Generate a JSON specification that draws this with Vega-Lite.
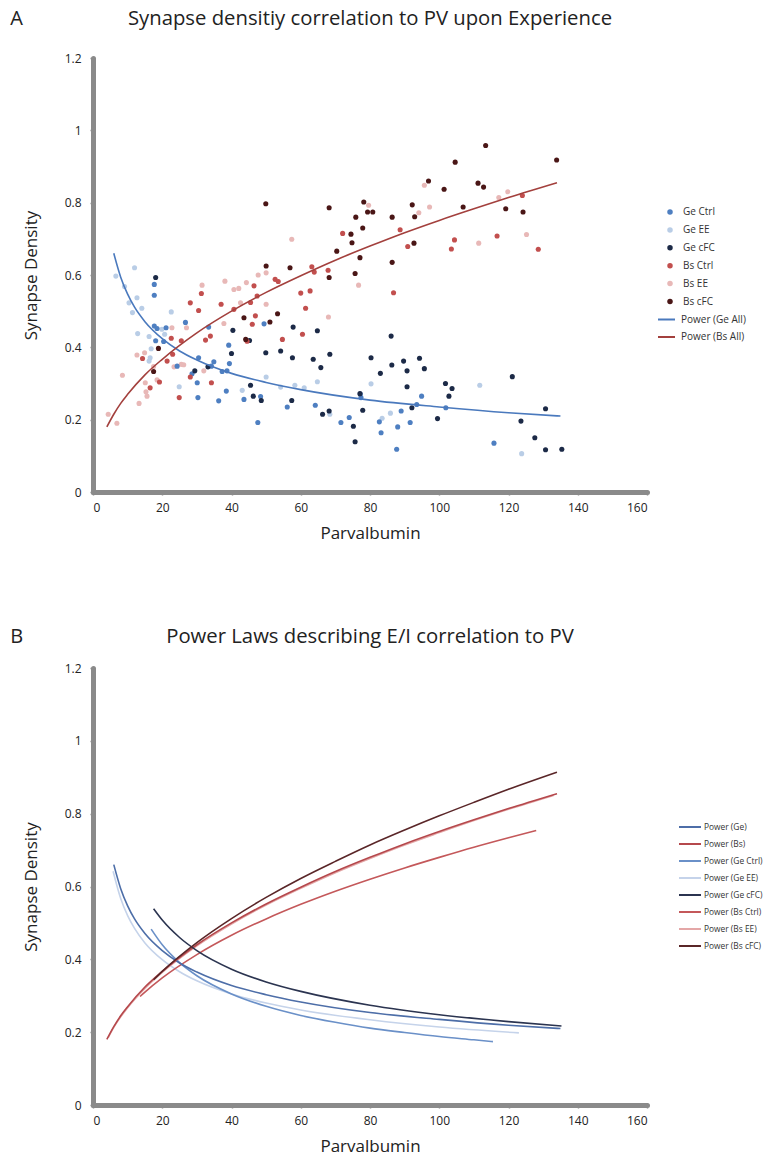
{
  "$schema": "https://vega.github.io/schema/vega-lite/v6.json",
  "background": "white",
  "padding": {"left": 10, "top": 8, "right": 5, "bottom": 2},
  "resolve": {"scale": {"fill": "independent", "stroke": "independent"}, "legend": {"fill": "independent", "stroke": "independent"}},
  "config": {
    "font": "Open Sans",
    "view": {"stroke": null},
    "axis": {"domainColor": "#8a8a8a", "domainWidth": 5, "domainCap": "round", "tickColor": "#8a8a8a", "tickSize": 3, "tickWidth": 1.5, "labelFontSize": 12, "labelColor": "#222", "titleFontSize": 17, "titleFontWeight": "normal", "titleColor": "#222", "grid": false},
    "title": {"fontWeight": "normal", "color": "#222"},
    "legend": {"title": null, "labelFontSize": 10, "labelColor": "#333", "orient": "none"},
    "concat": {"spacing": 85}
  },
  "datasets": {
    "pointsA": [
      {"series": "Bs EE", "pv": 4.4, "density": 0.215}, {"series": "Bs EE", "pv": 6.9, "density": 0.19}, {"series": "Bs EE", "pv": 8.5, "density": 0.323}, {"series": "Bs EE", "pv": 12.7, "density": 0.379}, {"series": "Bs EE", "pv": 14.9, "density": 0.385}, {"series": "Bs EE", "pv": 13.3, "density": 0.245}, {"series": "Bs EE", "pv": 15.1, "density": 0.302}, {"series": "Bs EE", "pv": 15.3, "density": 0.277}, {"series": "Bs EE", "pv": 15.6, "density": 0.265}, {"series": "Bs EE", "pv": 17.5, "density": 0.347}, {"series": "Bs EE", "pv": 18.5, "density": 0.31}, {"series": "Bs EE", "pv": 22.8, "density": 0.454}, {"series": "Bs EE", "pv": 23.4, "density": 0.346}, {"series": "Bs EE", "pv": 25.5, "density": 0.353}, {"series": "Bs EE", "pv": 26.2, "density": 0.352}, {"series": "Bs EE", "pv": 27, "density": 0.454}, {"series": "Bs EE", "pv": 31.5, "density": 0.572}, {"series": "Bs EE", "pv": 32, "density": 0.335}, {"series": "Bs EE", "pv": 37.8, "density": 0.466}, {"series": "Bs EE", "pv": 38.1, "density": 0.583}, {"series": "Bs EE", "pv": 40.7, "density": 0.56}, {"series": "Bs EE", "pv": 42.1, "density": 0.563}, {"series": "Bs EE", "pv": 42.6, "density": 0.523}, {"series": "Bs EE", "pv": 44.3, "density": 0.579}, {"series": "Bs EE", "pv": 47.7, "density": 0.6}, {"series": "Bs EE", "pv": 50, "density": 0.519}, {"series": "Bs EE", "pv": 50, "density": 0.606}, {"series": "Bs EE", "pv": 57.4, "density": 0.699}, {"series": "Bs EE", "pv": 68, "density": 0.484}, {"series": "Bs EE", "pv": 76.7, "density": 0.572}, {"series": "Bs EE", "pv": 79.6, "density": 0.793}, {"series": "Bs EE", "pv": 94.1, "density": 0.772}, {"series": "Bs EE", "pv": 95.7, "density": 0.848}, {"series": "Bs EE", "pv": 97.2, "density": 0.788}, {"series": "Bs EE", "pv": 111.4, "density": 0.688}, {"series": "Bs EE", "pv": 117.2, "density": 0.814}, {"series": "Bs EE", "pv": 119.8, "density": 0.83}, {"series": "Bs EE", "pv": 125.2, "density": 0.712},
      {"series": "Ge EE", "pv": 6.6, "density": 0.597}, {"series": "Ge EE", "pv": 9.1, "density": 0.568}, {"series": "Ge EE", "pv": 10.4, "density": 0.523}, {"series": "Ge EE", "pv": 12, "density": 0.62}, {"series": "Ge EE", "pv": 11.4, "density": 0.496}, {"series": "Ge EE", "pv": 12.7, "density": 0.537}, {"series": "Ge EE", "pv": 14.1, "density": 0.508}, {"series": "Ge EE", "pv": 12.9, "density": 0.438}, {"series": "Ge EE", "pv": 16.2, "density": 0.43}, {"series": "Ge EE", "pv": 16.8, "density": 0.396}, {"series": "Ge EE", "pv": 16.5, "density": 0.371}, {"series": "Ge EE", "pv": 16.2, "density": 0.362}, {"series": "Ge EE", "pv": 19.9, "density": 0.45}, {"series": "Ge EE", "pv": 20.7, "density": 0.436}, {"series": "Ge EE", "pv": 22.6, "density": 0.498}, {"series": "Ge EE", "pv": 24.9, "density": 0.291}, {"series": "Ge EE", "pv": 43.1, "density": 0.281}, {"series": "Ge EE", "pv": 50, "density": 0.318}, {"series": "Ge EE", "pv": 54.2, "density": 0.29}, {"series": "Ge EE", "pv": 58.3, "density": 0.295}, {"series": "Ge EE", "pv": 61, "density": 0.288}, {"series": "Ge EE", "pv": 64.8, "density": 0.305}, {"series": "Ge EE", "pv": 68.4, "density": 0.215}, {"series": "Ge EE", "pv": 80.3, "density": 0.299}, {"series": "Ge EE", "pv": 85.9, "density": 0.218}, {"series": "Ge EE", "pv": 83.5, "density": 0.204}, {"series": "Ge EE", "pv": 111.7, "density": 0.295}, {"series": "Ge EE", "pv": 123.8, "density": 0.106},
      {"series": "Ge Ctrl", "pv": 17.7, "density": 0.544}, {"series": "Ge Ctrl", "pv": 17.7, "density": 0.574}, {"series": "Ge Ctrl", "pv": 17.7, "density": 0.459}, {"series": "Ge Ctrl", "pv": 18.5, "density": 0.452}, {"series": "Ge Ctrl", "pv": 18.1, "density": 0.418}, {"series": "Ge Ctrl", "pv": 20.4, "density": 0.416}, {"series": "Ge Ctrl", "pv": 21.1, "density": 0.454}, {"series": "Ge Ctrl", "pv": 24.3, "density": 0.348}, {"series": "Ge Ctrl", "pv": 26.7, "density": 0.469}, {"series": "Ge Ctrl", "pv": 28.6, "density": 0.327}, {"series": "Ge Ctrl", "pv": 30.5, "density": 0.371}, {"series": "Ge Ctrl", "pv": 30.1, "density": 0.302}, {"series": "Ge Ctrl", "pv": 30.3, "density": 0.261}, {"series": "Ge Ctrl", "pv": 33.4, "density": 0.456}, {"series": "Ge Ctrl", "pv": 34.2, "density": 0.348}, {"series": "Ge Ctrl", "pv": 34.9, "density": 0.36}, {"series": "Ge Ctrl", "pv": 36.3, "density": 0.252}, {"series": "Ge Ctrl", "pv": 37.3, "density": 0.333}, {"series": "Ge Ctrl", "pv": 38.5, "density": 0.279}, {"series": "Ge Ctrl", "pv": 38.7, "density": 0.335}, {"series": "Ge Ctrl", "pv": 39.2, "density": 0.406}, {"series": "Ge Ctrl", "pv": 39.4, "density": 0.355}, {"series": "Ge Ctrl", "pv": 43.6, "density": 0.256}, {"series": "Ge Ctrl", "pv": 47.6, "density": 0.192}, {"series": "Ge Ctrl", "pv": 48.4, "density": 0.264}, {"series": "Ge Ctrl", "pv": 49.4, "density": 0.465}, {"series": "Ge Ctrl", "pv": 56.1, "density": 0.235}, {"series": "Ge Ctrl", "pv": 64.2, "density": 0.24}, {"series": "Ge Ctrl", "pv": 71.6, "density": 0.192}, {"series": "Ge Ctrl", "pv": 74, "density": 0.206}, {"series": "Ge Ctrl", "pv": 77.4, "density": 0.261}, {"series": "Ge Ctrl", "pv": 77.2, "density": 0.271}, {"series": "Ge Ctrl", "pv": 82.7, "density": 0.194}, {"series": "Ge Ctrl", "pv": 83.2, "density": 0.164}, {"series": "Ge Ctrl", "pv": 87.7, "density": 0.118}, {"series": "Ge Ctrl", "pv": 88, "density": 0.18}, {"series": "Ge Ctrl", "pv": 89, "density": 0.224}, {"series": "Ge Ctrl", "pv": 91.6, "density": 0.192}, {"series": "Ge Ctrl", "pv": 93.5, "density": 0.242}, {"series": "Ge Ctrl", "pv": 94.9, "density": 0.265}, {"series": "Ge Ctrl", "pv": 101.9, "density": 0.233}, {"series": "Ge Ctrl", "pv": 115.8, "density": 0.135},
      {"series": "Ge cFC", "pv": 18.1, "density": 0.593}, {"series": "Ge cFC", "pv": 29.4, "density": 0.335}, {"series": "Ge cFC", "pv": 33.2, "density": 0.346}, {"series": "Ge cFC", "pv": 40, "density": 0.383}, {"series": "Ge cFC", "pv": 40.4, "density": 0.447}, {"series": "Ge cFC", "pv": 45.2, "density": 0.419}, {"series": "Ge cFC", "pv": 45.5, "density": 0.295}, {"series": "Ge cFC", "pv": 46.3, "density": 0.265}, {"series": "Ge cFC", "pv": 48.6, "density": 0.253}, {"series": "Ge cFC", "pv": 49.9, "density": 0.385}, {"series": "Ge cFC", "pv": 54.2, "density": 0.39}, {"series": "Ge cFC", "pv": 57.6, "density": 0.371}, {"series": "Ge cFC", "pv": 57.8, "density": 0.456}, {"series": "Ge cFC", "pv": 57.4, "density": 0.253}, {"series": "Ge cFC", "pv": 63.6, "density": 0.367}, {"series": "Ge cFC", "pv": 64.8, "density": 0.446}, {"series": "Ge cFC", "pv": 65.8, "density": 0.344}, {"series": "Ge cFC", "pv": 66.3, "density": 0.215}, {"series": "Ge cFC", "pv": 68.2, "density": 0.224}, {"series": "Ge cFC", "pv": 68.4, "density": 0.381}, {"series": "Ge cFC", "pv": 75.2, "density": 0.182}, {"series": "Ge cFC", "pv": 75.7, "density": 0.139}, {"series": "Ge cFC", "pv": 77.1, "density": 0.272}, {"series": "Ge cFC", "pv": 77.9, "density": 0.226}, {"series": "Ge cFC", "pv": 80.3, "density": 0.371}, {"series": "Ge cFC", "pv": 86.1, "density": 0.431}, {"series": "Ge cFC", "pv": 86.3, "density": 0.351}, {"series": "Ge cFC", "pv": 83, "density": 0.328}, {"series": "Ge cFC", "pv": 89.7, "density": 0.362}, {"series": "Ge cFC", "pv": 90.7, "density": 0.335}, {"series": "Ge cFC", "pv": 90.7, "density": 0.291}, {"series": "Ge cFC", "pv": 92.1, "density": 0.233}, {"series": "Ge cFC", "pv": 94.3, "density": 0.37}, {"series": "Ge cFC", "pv": 95.7, "density": 0.341}, {"series": "Ge cFC", "pv": 99.5, "density": 0.203}, {"series": "Ge cFC", "pv": 101.8, "density": 0.3}, {"series": "Ge cFC", "pv": 102.8, "density": 0.265}, {"series": "Ge cFC", "pv": 103.7, "density": 0.286}, {"series": "Ge cFC", "pv": 121.1, "density": 0.319}, {"series": "Ge cFC", "pv": 123.6, "density": 0.196}, {"series": "Ge cFC", "pv": 127.6, "density": 0.15}, {"series": "Ge cFC", "pv": 130.7, "density": 0.23}, {"series": "Ge cFC", "pv": 130.7, "density": 0.117}, {"series": "Ge cFC", "pv": 135.4, "density": 0.118},
      {"series": "Bs Ctrl", "pv": 14.3, "density": 0.369}, {"series": "Bs Ctrl", "pv": 16.5, "density": 0.288}, {"series": "Bs Ctrl", "pv": 19.2, "density": 0.304}, {"series": "Bs Ctrl", "pv": 21.4, "density": 0.362}, {"series": "Bs Ctrl", "pv": 22.6, "density": 0.425}, {"series": "Bs Ctrl", "pv": 23, "density": 0.381}, {"series": "Bs Ctrl", "pv": 24.9, "density": 0.261}, {"series": "Bs Ctrl", "pv": 25.5, "density": 0.418}, {"series": "Bs Ctrl", "pv": 28.1, "density": 0.523}, {"series": "Bs Ctrl", "pv": 28.1, "density": 0.318}, {"series": "Bs Ctrl", "pv": 30.5, "density": 0.502}, {"series": "Bs Ctrl", "pv": 31.3, "density": 0.549}, {"series": "Bs Ctrl", "pv": 32.5, "density": 0.42}, {"series": "Bs Ctrl", "pv": 33.9, "density": 0.431}, {"series": "Bs Ctrl", "pv": 34.2, "density": 0.302}, {"series": "Bs Ctrl", "pv": 37, "density": 0.519}, {"series": "Bs Ctrl", "pv": 40.7, "density": 0.505}, {"series": "Bs Ctrl", "pv": 44.5, "density": 0.417}, {"series": "Bs Ctrl", "pv": 45.5, "density": 0.524}, {"series": "Bs Ctrl", "pv": 46, "density": 0.464}, {"series": "Bs Ctrl", "pv": 46.5, "density": 0.57}, {"series": "Bs Ctrl", "pv": 46.9, "density": 0.487}, {"series": "Bs Ctrl", "pv": 47.4, "density": 0.542}, {"series": "Bs Ctrl", "pv": 52.6, "density": 0.588}, {"series": "Bs Ctrl", "pv": 53.5, "density": 0.582}, {"series": "Bs Ctrl", "pv": 54.7, "density": 0.422}, {"series": "Bs Ctrl", "pv": 60, "density": 0.55}, {"series": "Bs Ctrl", "pv": 60.5, "density": 0.436}, {"series": "Bs Ctrl", "pv": 61.4, "density": 0.508}, {"series": "Bs Ctrl", "pv": 62.7, "density": 0.556}, {"series": "Bs Ctrl", "pv": 63.2, "density": 0.623}, {"series": "Bs Ctrl", "pv": 63.9, "density": 0.608}, {"series": "Bs Ctrl", "pv": 67.9, "density": 0.613}, {"series": "Bs Ctrl", "pv": 72.1, "density": 0.715}, {"series": "Bs Ctrl", "pv": 86.8, "density": 0.551}, {"series": "Bs Ctrl", "pv": 88.7, "density": 0.725}, {"series": "Bs Ctrl", "pv": 90.9, "density": 0.679}, {"series": "Bs Ctrl", "pv": 103.5, "density": 0.672}, {"series": "Bs Ctrl", "pv": 104.4, "density": 0.697}, {"series": "Bs Ctrl", "pv": 116.7, "density": 0.708}, {"series": "Bs Ctrl", "pv": 124, "density": 0.82}, {"series": "Bs Ctrl", "pv": 128.6, "density": 0.671},
      {"series": "Bs cFC", "pv": 17.5, "density": 0.333}, {"series": "Bs cFC", "pv": 18.9, "density": 0.397}, {"series": "Bs cFC", "pv": 43.6, "density": 0.482}, {"series": "Bs cFC", "pv": 44.1, "density": 0.422}, {"series": "Bs cFC", "pv": 49.9, "density": 0.797}, {"series": "Bs cFC", "pv": 50, "density": 0.625}, {"series": "Bs cFC", "pv": 51.1, "density": 0.47}, {"series": "Bs cFC", "pv": 53.3, "density": 0.493}, {"series": "Bs cFC", "pv": 56.9, "density": 0.62}, {"series": "Bs cFC", "pv": 68.2, "density": 0.786}, {"series": "Bs cFC", "pv": 68.2, "density": 0.593}, {"series": "Bs cFC", "pv": 70.4, "density": 0.666}, {"series": "Bs cFC", "pv": 74.5, "density": 0.713}, {"series": "Bs cFC", "pv": 74.8, "density": 0.689}, {"series": "Bs cFC", "pv": 75.9, "density": 0.76}, {"series": "Bs cFC", "pv": 75.7, "density": 0.604}, {"series": "Bs cFC", "pv": 77.1, "density": 0.648}, {"series": "Bs cFC", "pv": 77.9, "density": 0.73}, {"series": "Bs cFC", "pv": 78.2, "density": 0.802}, {"series": "Bs cFC", "pv": 79.3, "density": 0.774}, {"series": "Bs cFC", "pv": 80.8, "density": 0.774}, {"series": "Bs cFC", "pv": 86.4, "density": 0.76}, {"series": "Bs cFC", "pv": 86.4, "density": 0.635}, {"series": "Bs cFC", "pv": 92.2, "density": 0.794}, {"series": "Bs cFC", "pv": 92.9, "density": 0.761}, {"series": "Bs cFC", "pv": 92.7, "density": 0.688}, {"series": "Bs cFC", "pv": 96.9, "density": 0.86}, {"series": "Bs cFC", "pv": 101.4, "density": 0.837}, {"series": "Bs cFC", "pv": 104.6, "density": 0.912}, {"series": "Bs cFC", "pv": 106.9, "density": 0.788}, {"series": "Bs cFC", "pv": 111.2, "density": 0.854}, {"series": "Bs cFC", "pv": 112.8, "density": 0.843}, {"series": "Bs cFC", "pv": 113.4, "density": 0.958}, {"series": "Bs cFC", "pv": 119.2, "density": 0.783}, {"series": "Bs cFC", "pv": 124.2, "density": 0.774}, {"series": "Bs cFC", "pv": 133.9, "density": 0.918}
    ],
    "fitA": [
      {"series": "Power (Ge All)", "pv": 6, "density": 0.66}, {"series": "Power (Ge All)", "pv": 8, "density": 0.594}, {"series": "Power (Ge All)", "pv": 10, "density": 0.547}, {"series": "Power (Ge All)", "pv": 12, "density": 0.511}, {"series": "Power (Ge All)", "pv": 15, "density": 0.471}, {"series": "Power (Ge All)", "pv": 20, "density": 0.424}, {"series": "Power (Ge All)", "pv": 25, "density": 0.39}, {"series": "Power (Ge All)", "pv": 30, "density": 0.365}, {"series": "Power (Ge All)", "pv": 40, "density": 0.328}, {"series": "Power (Ge All)", "pv": 50, "density": 0.303}, {"series": "Power (Ge All)", "pv": 60, "density": 0.283}, {"series": "Power (Ge All)", "pv": 80, "density": 0.254}, {"series": "Power (Ge All)", "pv": 100, "density": 0.235}, {"series": "Power (Ge All)", "pv": 120, "density": 0.219}, {"series": "Power (Ge All)", "pv": 135, "density": 0.21},
      {"series": "Power (Bs All)", "pv": 4, "density": 0.18}, {"series": "Power (Bs All)", "pv": 6, "density": 0.215}, {"series": "Power (Bs All)", "pv": 8, "density": 0.245}, {"series": "Power (Bs All)", "pv": 10, "density": 0.27}, {"series": "Power (Bs All)", "pv": 15, "density": 0.324}, {"series": "Power (Bs All)", "pv": 20, "density": 0.367}, {"series": "Power (Bs All)", "pv": 30, "density": 0.44}, {"series": "Power (Bs All)", "pv": 40, "density": 0.5}, {"series": "Power (Bs All)", "pv": 50, "density": 0.552}, {"series": "Power (Bs All)", "pv": 60, "density": 0.598}, {"series": "Power (Bs All)", "pv": 70, "density": 0.641}, {"series": "Power (Bs All)", "pv": 80, "density": 0.68}, {"series": "Power (Bs All)", "pv": 90, "density": 0.717}, {"series": "Power (Bs All)", "pv": 100, "density": 0.751}, {"series": "Power (Bs All)", "pv": 110, "density": 0.783}, {"series": "Power (Bs All)", "pv": 120, "density": 0.814}, {"series": "Power (Bs All)", "pv": 134, "density": 0.855}
    ],
    "fitsB": [
      {"series": "Power (Ge EE)", "pv": 5.8, "density": 0.642}, {"series": "Power (Ge EE)", "pv": 8, "density": 0.567}, {"series": "Power (Ge EE)", "pv": 10, "density": 0.52}, {"series": "Power (Ge EE)", "pv": 12, "density": 0.485}, {"series": "Power (Ge EE)", "pv": 15, "density": 0.445}, {"series": "Power (Ge EE)", "pv": 20, "density": 0.399}, {"series": "Power (Ge EE)", "pv": 25, "density": 0.366}, {"series": "Power (Ge EE)", "pv": 30, "density": 0.341}, {"series": "Power (Ge EE)", "pv": 40, "density": 0.305}, {"series": "Power (Ge EE)", "pv": 50, "density": 0.28}, {"series": "Power (Ge EE)", "pv": 60, "density": 0.261}, {"series": "Power (Ge EE)", "pv": 80, "density": 0.234}, {"series": "Power (Ge EE)", "pv": 100, "density": 0.214}, {"series": "Power (Ge EE)", "pv": 123, "density": 0.198},
      {"series": "Power (Bs EE)", "pv": 4.4, "density": 0.185}, {"series": "Power (Bs EE)", "pv": 6, "density": 0.213}, {"series": "Power (Bs EE)", "pv": 8, "density": 0.242}, {"series": "Power (Bs EE)", "pv": 10, "density": 0.267}, {"series": "Power (Bs EE)", "pv": 15, "density": 0.32}, {"series": "Power (Bs EE)", "pv": 20, "density": 0.364}, {"series": "Power (Bs EE)", "pv": 30, "density": 0.437}, {"series": "Power (Bs EE)", "pv": 40, "density": 0.497}, {"series": "Power (Bs EE)", "pv": 50, "density": 0.549}, {"series": "Power (Bs EE)", "pv": 60, "density": 0.595}, {"series": "Power (Bs EE)", "pv": 70, "density": 0.638}, {"series": "Power (Bs EE)", "pv": 80, "density": 0.677}, {"series": "Power (Bs EE)", "pv": 90, "density": 0.714}, {"series": "Power (Bs EE)", "pv": 100, "density": 0.748}, {"series": "Power (Bs EE)", "pv": 110, "density": 0.781}, {"series": "Power (Bs EE)", "pv": 120, "density": 0.812}, {"series": "Power (Bs EE)", "pv": 133, "density": 0.85},
      {"series": "Power (Ge Ctrl)", "pv": 16.8, "density": 0.483}, {"series": "Power (Ge Ctrl)", "pv": 20, "density": 0.44}, {"series": "Power (Ge Ctrl)", "pv": 25, "density": 0.391}, {"series": "Power (Ge Ctrl)", "pv": 30, "density": 0.355}, {"series": "Power (Ge Ctrl)", "pv": 40, "density": 0.305}, {"series": "Power (Ge Ctrl)", "pv": 50, "density": 0.271}, {"series": "Power (Ge Ctrl)", "pv": 60, "density": 0.246}, {"series": "Power (Ge Ctrl)", "pv": 70, "density": 0.227}, {"series": "Power (Ge Ctrl)", "pv": 80, "density": 0.211}, {"series": "Power (Ge Ctrl)", "pv": 90, "density": 0.199}, {"series": "Power (Ge Ctrl)", "pv": 100, "density": 0.188}, {"series": "Power (Ge Ctrl)", "pv": 110, "density": 0.179}, {"series": "Power (Ge Ctrl)", "pv": 115.5, "density": 0.174},
      {"series": "Power (Bs Ctrl)", "pv": 13.6, "density": 0.298}, {"series": "Power (Bs Ctrl)", "pv": 15, "density": 0.31}, {"series": "Power (Bs Ctrl)", "pv": 20, "density": 0.349}, {"series": "Power (Bs Ctrl)", "pv": 30, "density": 0.413}, {"series": "Power (Bs Ctrl)", "pv": 40, "density": 0.466}, {"series": "Power (Bs Ctrl)", "pv": 50, "density": 0.511}, {"series": "Power (Bs Ctrl)", "pv": 60, "density": 0.551}, {"series": "Power (Bs Ctrl)", "pv": 70, "density": 0.587}, {"series": "Power (Bs Ctrl)", "pv": 80, "density": 0.62}, {"series": "Power (Bs Ctrl)", "pv": 90, "density": 0.651}, {"series": "Power (Bs Ctrl)", "pv": 100, "density": 0.68}, {"series": "Power (Bs Ctrl)", "pv": 110, "density": 0.708}, {"series": "Power (Bs Ctrl)", "pv": 120, "density": 0.734}, {"series": "Power (Bs Ctrl)", "pv": 128, "density": 0.754},
      {"series": "Power (Ge)", "pv": 6, "density": 0.66}, {"series": "Power (Ge)", "pv": 8, "density": 0.594}, {"series": "Power (Ge)", "pv": 10, "density": 0.547}, {"series": "Power (Ge)", "pv": 12, "density": 0.511}, {"series": "Power (Ge)", "pv": 15, "density": 0.471}, {"series": "Power (Ge)", "pv": 20, "density": 0.424}, {"series": "Power (Ge)", "pv": 25, "density": 0.39}, {"series": "Power (Ge)", "pv": 30, "density": 0.365}, {"series": "Power (Ge)", "pv": 40, "density": 0.328}, {"series": "Power (Ge)", "pv": 50, "density": 0.303}, {"series": "Power (Ge)", "pv": 60, "density": 0.283}, {"series": "Power (Ge)", "pv": 80, "density": 0.254}, {"series": "Power (Ge)", "pv": 100, "density": 0.235}, {"series": "Power (Ge)", "pv": 120, "density": 0.219}, {"series": "Power (Ge)", "pv": 135, "density": 0.21},
      {"series": "Power (Bs)", "pv": 4, "density": 0.18}, {"series": "Power (Bs)", "pv": 6, "density": 0.215}, {"series": "Power (Bs)", "pv": 8, "density": 0.245}, {"series": "Power (Bs)", "pv": 10, "density": 0.27}, {"series": "Power (Bs)", "pv": 15, "density": 0.324}, {"series": "Power (Bs)", "pv": 20, "density": 0.367}, {"series": "Power (Bs)", "pv": 30, "density": 0.44}, {"series": "Power (Bs)", "pv": 40, "density": 0.5}, {"series": "Power (Bs)", "pv": 50, "density": 0.552}, {"series": "Power (Bs)", "pv": 60, "density": 0.598}, {"series": "Power (Bs)", "pv": 70, "density": 0.641}, {"series": "Power (Bs)", "pv": 80, "density": 0.68}, {"series": "Power (Bs)", "pv": 90, "density": 0.717}, {"series": "Power (Bs)", "pv": 100, "density": 0.751}, {"series": "Power (Bs)", "pv": 110, "density": 0.783}, {"series": "Power (Bs)", "pv": 120, "density": 0.814}, {"series": "Power (Bs)", "pv": 134, "density": 0.855},
      {"series": "Power (Ge cFC)", "pv": 17.5, "density": 0.539}, {"series": "Power (Ge cFC)", "pv": 20, "density": 0.508}, {"series": "Power (Ge cFC)", "pv": 25, "density": 0.46}, {"series": "Power (Ge cFC)", "pv": 30, "density": 0.424}, {"series": "Power (Ge cFC)", "pv": 40, "density": 0.373}, {"series": "Power (Ge cFC)", "pv": 50, "density": 0.338}, {"series": "Power (Ge cFC)", "pv": 60, "density": 0.312}, {"series": "Power (Ge cFC)", "pv": 80, "density": 0.274}, {"series": "Power (Ge cFC)", "pv": 100, "density": 0.248}, {"series": "Power (Ge cFC)", "pv": 120, "density": 0.229}, {"series": "Power (Ge cFC)", "pv": 135.3, "density": 0.217},
      {"series": "Power (Bs cFC)", "pv": 17.5, "density": 0.344}, {"series": "Power (Bs cFC)", "pv": 20, "density": 0.367}, {"series": "Power (Bs cFC)", "pv": 30, "density": 0.446}, {"series": "Power (Bs cFC)", "pv": 40, "density": 0.512}, {"series": "Power (Bs cFC)", "pv": 50, "density": 0.57}, {"series": "Power (Bs cFC)", "pv": 60, "density": 0.622}, {"series": "Power (Bs cFC)", "pv": 70, "density": 0.669}, {"series": "Power (Bs cFC)", "pv": 80, "density": 0.714}, {"series": "Power (Bs cFC)", "pv": 90, "density": 0.755}, {"series": "Power (Bs cFC)", "pv": 100, "density": 0.794}, {"series": "Power (Bs cFC)", "pv": 110, "density": 0.831}, {"series": "Power (Bs cFC)", "pv": 120, "density": 0.867}, {"series": "Power (Bs cFC)", "pv": 134, "density": 0.914}
    ]
  },
  "vconcat": [
    {
      "title": {"text": "A", "anchor": "start", "frame": "bounds", "fontSize": 20, "offset": -20, "dx": -12},
      "vconcat": [
        {
          "width": 554,
          "height": 434,
          "title": {"text": "Synapse densitiy correlation to PV upon Experience", "fontSize": 20.3, "offset": 23},
          "layer": [
            {
              "data": {"name": "pointsA"},
              "mark": {"type": "circle", "size": 26, "opacity": 1},
              "encoding": {
                "x": {"field": "pv", "type": "quantitative", "scale": {"domain": [0, 160]}, "axis": {"values": [0, 20, 40, 60, 80, 100, 120, 140, 160], "labelPadding": 7, "titlePadding": 12}, "title": "Parvalbumin"},
                "y": {"field": "density", "type": "quantitative", "scale": {"domain": [0, 1.2]}, "axis": {"values": [0, 0.2, 0.4, 0.6, 0.8, 1, 1.2], "format": "~g", "labelPadding": 9, "titlePadding": 24}, "title": "Synapse Density"},
                "fill": {"field": "series", "type": "nominal", "scale": {"domain": ["Ge Ctrl", "Ge EE", "Ge cFC", "Bs Ctrl", "Bs EE", "Bs cFC"], "range": ["#4e7fc1", "#b9cde6", "#1c2a47", "#c24f4e", "#e8b8b7", "#4a1616"]}, "legend": {"legendX": 572, "legendY": 149, "symbolType": "circle", "symbolSize": 30, "rowPadding": 7.9, "labelOffset": 8}}
              }
            },
            {
              "data": {"name": "fitA"},
              "mark": {"type": "line", "strokeWidth": 1.6, "interpolate": "monotone"},
              "encoding": {
                "x": {"field": "pv", "type": "quantitative"},
                "y": {"field": "density", "type": "quantitative"},
                "stroke": {"field": "series", "type": "nominal", "scale": {"domain": ["Power (Ge All)", "Power (Bs All)"], "range": ["#4a79bd", "#a3403d"]}, "legend": {"legendX": 564, "legendY": 252, "symbolType": "stroke", "symbolSize": 289, "symbolStrokeWidth": 2, "rowPadding": 2.5, "labelOffset": 5}}
              }
            }
          ]
        }
      ]
    },
    {
      "title": {"text": "B", "anchor": "start", "frame": "bounds", "fontSize": 20, "offset": -20, "dx": -12},
      "vconcat": [
        {
          "width": 554,
          "height": 437,
          "title": {"text": "Power Laws describing E/I correlation to PV", "fontSize": 20.3, "offset": 15},
          "data": {"name": "fitsB"},
          "mark": {"type": "line", "strokeWidth": 1.6, "interpolate": "monotone"},
          "encoding": {
            "x": {"field": "pv", "type": "quantitative", "scale": {"domain": [0, 160]}, "axis": {"values": [0, 20, 40, 60, 80, 100, 120, 140, 160], "labelPadding": 7, "titlePadding": 12}, "title": "Parvalbumin"},
            "y": {"field": "density", "type": "quantitative", "scale": {"domain": [0, 1.2]}, "axis": {"values": [0, 0.2, 0.4, 0.6, 0.8, 1, 1.2], "format": "~g", "labelPadding": 9, "titlePadding": 24}, "title": "Synapse Density"},
            "stroke": {"field": "series", "type": "nominal", "scale": {"domain": ["Power (Ge)", "Power (Bs)", "Power (Ge Ctrl)", "Power (Ge EE)", "Power (Ge cFC)", "Power (Bs Ctrl)", "Power (Bs EE)", "Power (Bs cFC)"], "range": ["#4d6ea8", "#b5484c", "#6a90c8", "#c5d3ea", "#2b3450", "#c4585a", "#e4a7a7", "#5a2628"]}, "legend": {"legendX": 585, "legendY": 147, "symbolType": "stroke", "symbolSize": 484, "symbolStrokeWidth": 2, "rowPadding": -4.4, "labelOffset": 2, "labelFontSize": 8.4}}
          }
        }
      ]
    }
  ]
}
